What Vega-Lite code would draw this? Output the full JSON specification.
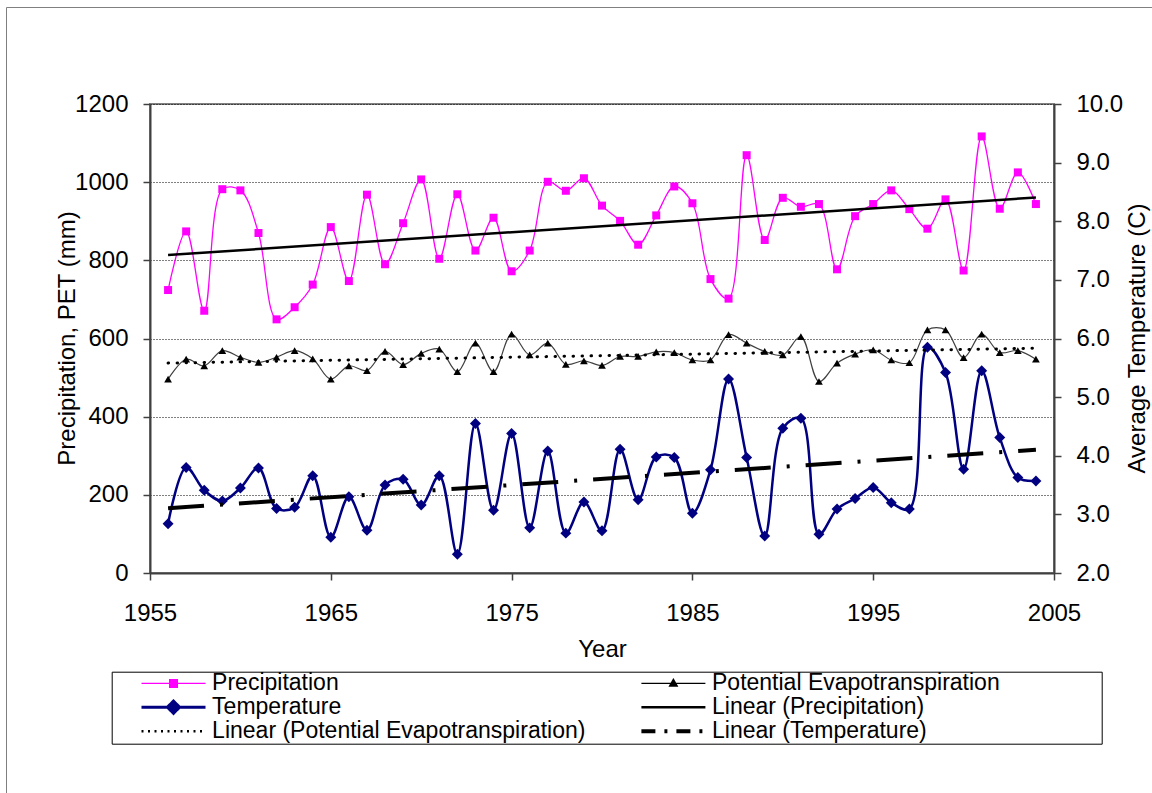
{
  "$schema": "https://vega.github.io/schema/vega-lite/v6.json",
  "width": 904,
  "height": 469,
  "autosize": {"type": "none"},
  "padding": {"left": 150, "top": 104, "right": 98, "bottom": 220},
  "background": "white",
  "config": {
    "font": "Liberation Sans",
    "view": {"stroke": "#808080", "strokeWidth": 2},
    "axis": {
      "labelFont": "Liberation Sans", "labelFontSize": 24, "labelColor": "black",
      "titleFont": "Liberation Sans", "titleFontSize": 24, "titleFontWeight": "normal", "titleColor": "black",
      "domainColor": "#404040", "domainWidth": 2, "tickColor": "#404040", "tickWidth": 1.5, "tickSize": 7,
      "grid": false, "labelFlush": false, "labelOverlap": false
    }
  },
  "data": {"values": [
    {"year": 1956, "precip": 724, "pet": 496, "temp": 2.84},
    {"year": 1957, "precip": 874, "pet": 547, "temp": 3.80},
    {"year": 1958, "precip": 671, "pet": 530, "temp": 3.41},
    {"year": 1959, "precip": 982, "pet": 569, "temp": 3.23},
    {"year": 1960, "precip": 979, "pet": 552, "temp": 3.45},
    {"year": 1961, "precip": 870, "pet": 539, "temp": 3.79},
    {"year": 1962, "precip": 649, "pet": 552, "temp": 3.10},
    {"year": 1963, "precip": 680, "pet": 569, "temp": 3.12},
    {"year": 1964, "precip": 738, "pet": 548, "temp": 3.66},
    {"year": 1965, "precip": 885, "pet": 496, "temp": 2.61},
    {"year": 1966, "precip": 747, "pet": 530, "temp": 3.30},
    {"year": 1967, "precip": 968, "pet": 518, "temp": 2.73},
    {"year": 1968, "precip": 790, "pet": 567, "temp": 3.50},
    {"year": 1969, "precip": 895, "pet": 533, "temp": 3.60},
    {"year": 1970, "precip": 1007, "pet": 562, "temp": 3.16},
    {"year": 1971, "precip": 804, "pet": 573, "temp": 3.66},
    {"year": 1972, "precip": 969, "pet": 515, "temp": 2.32},
    {"year": 1973, "precip": 825, "pet": 588, "temp": 4.55},
    {"year": 1974, "precip": 909, "pet": 515, "temp": 3.07},
    {"year": 1975, "precip": 772, "pet": 611, "temp": 4.38},
    {"year": 1976, "precip": 825, "pet": 558, "temp": 2.77},
    {"year": 1977, "precip": 1001, "pet": 588, "temp": 4.08},
    {"year": 1978, "precip": 978, "pet": 534, "temp": 2.68},
    {"year": 1979, "precip": 1010, "pet": 543, "temp": 3.21},
    {"year": 1980, "precip": 940, "pet": 531, "temp": 2.72},
    {"year": 1981, "precip": 901, "pet": 554, "temp": 4.11},
    {"year": 1982, "precip": 840, "pet": 554, "temp": 3.25},
    {"year": 1983, "precip": 915, "pet": 566, "temp": 3.98},
    {"year": 1984, "precip": 989, "pet": 564, "temp": 3.97},
    {"year": 1985, "precip": 946, "pet": 545, "temp": 3.02},
    {"year": 1986, "precip": 752, "pet": 545, "temp": 3.76},
    {"year": 1987, "precip": 702, "pet": 610, "temp": 5.31},
    {"year": 1988, "precip": 1069, "pet": 588, "temp": 3.97},
    {"year": 1989, "precip": 852, "pet": 567, "temp": 2.63},
    {"year": 1990, "precip": 960, "pet": 558, "temp": 4.47},
    {"year": 1991, "precip": 937, "pet": 605, "temp": 4.64},
    {"year": 1992, "precip": 944, "pet": 490, "temp": 2.66},
    {"year": 1993, "precip": 777, "pet": 537, "temp": 3.09},
    {"year": 1994, "precip": 913, "pet": 560, "temp": 3.27},
    {"year": 1995, "precip": 944, "pet": 571, "temp": 3.46},
    {"year": 1996, "precip": 979, "pet": 545, "temp": 3.20},
    {"year": 1997, "precip": 931, "pet": 538, "temp": 3.09},
    {"year": 1998, "precip": 881, "pet": 622, "temp": 5.85},
    {"year": 1999, "precip": 956, "pet": 622, "temp": 5.42},
    {"year": 2000, "precip": 774, "pet": 551, "temp": 3.77},
    {"year": 2001, "precip": 1117, "pet": 611, "temp": 5.45},
    {"year": 2002, "precip": 932, "pet": 564, "temp": 4.31},
    {"year": 2003, "precip": 1025, "pet": 569, "temp": 3.63},
    {"year": 2004, "precip": 944, "pet": 547, "temp": 3.57}
  ]},
  "encoding": {
    "x": {
      "field": "year", "type": "quantitative",
      "scale": {"domain": [1955, 2005], "nice": false, "zero": false},
      "axis": {"title": "Year", "values": [1955, 1965, 1975, 1985, 1995, 2005], "format": "d", "labelPadding": 21, "titlePadding": 12}
    }
  },
  "layer": [
    {
      "mark": {"type": "line", "interpolate": "catmull-rom", "strokeWidth": 1.3},
      "encoding": {
        "y": {
          "field": "precip", "type": "quantitative",
          "scale": {"domain": [0, 1200], "nice": false},
          "axis": {
            "orient": "left", "title": "Precipitation, PET (mm)",
            "values": [0, 200, 400, 600, 800, 1000, 1200], "format": "d",
            "grid": true, "gridDash": [1, 2], "gridColor": "black", "gridWidth": 1,
            "labelPadding": 15,
            "titleX": -83, "titleY": 234, "titleAngle": 270, "titleBaseline": "middle", "titleAlign": "center"
          }
        },
        "color": {
          "datum": "Precipitation", "type": "nominal",
          "scale": {
            "domain": ["Precipitation", "Potential Evapotranspiration", "Temperature", "Linear (Precipitation)", "Linear (Potential Evapotranspiration)", "Linear (Temperature)"],
            "range": ["#ff00ff", "#000000", "#000080", "#000000", "#000000", "#000000"]
          },
          "legend": {
            "title": null,
            "orient": "none", "legendX": -38.3, "legendY": 567.7,
            "direction": "horizontal", "columns": 2, "gridAlign": "each",
            "symbolSize": 4096, "symbolOffset": 50.3, "labelOffset": 27.1,
            "clipHeight": 23, "rowPadding": 0, "columnPadding": 25.9, "padding": 0,
            "strokeColor": "black", "fillColor": "white",
            "labelFont": "Liberation Sans", "labelFontSize": 23, "labelColor": "black", "labelLimit": 0,
            "labelExpr": "datum.value === 'Potential Evapotranspiration' ? 'Potential Evapotranspiration\u2800\u2800\u2800\u2800\u2800\u2800' : datum.label",
            "encode": {
              "symbols": {
                "update": {
                  "shape": {"signal": "datum.value === 'Precipitation' ? 'M-1,0H1M-0.12,-0.12H0.12V0.12H-0.12Z' : datum.value === 'Potential Evapotranspiration' ? 'M-1,0H1M0,-0.13L0.12,0.08H-0.12Z' : datum.value === 'Temperature' ? 'M-1,0H1M0,-0.19L0.19,0L0,0.19L-0.19,0Z' : 'M-1,0H1'"},
                  "fill": {"signal": "datum.value === 'Precipitation' ? '#ff00ff' : datum.value === 'Temperature' ? '#000080' : datum.value === 'Potential Evapotranspiration' ? '#000000' : 'transparent'"},
                  "stroke": {"signal": "datum.value === 'Precipitation' ? '#ff00ff' : datum.value === 'Temperature' ? '#000080' : datum.value === 'Potential Evapotranspiration' ? '#404040' : '#000000'"},
                  "strokeWidth": {"signal": "datum.value === 'Temperature' ? 3 : datum.value === 'Linear (Temperature)' ? 4 : datum.value === 'Linear (Potential Evapotranspiration)' ? 2.5 : datum.value === 'Linear (Precipitation)' ? 2.5 : 1.3"},
                  "strokeDash": {"signal": "datum.value === 'Linear (Potential Evapotranspiration)' ? [2, 4.5] : datum.value === 'Linear (Temperature)' ? [14, 9, 3, 9] : [1, 0]"},
                  "opacity": {"value": 1}
                }
              }
            }
          }
        }
      }
    },
    {
      "mark": {"type": "point", "shape": "square", "filled": true, "size": 64, "color": "#ff00ff", "opacity": 1},
      "encoding": {
        "y": {"field": "precip", "type": "quantitative", "scale": {"domain": [0, 1200], "nice": false}, "axis": null},
        "shape": {
          "datum": "frame", "type": "nominal",
          "scale": {"domain": ["frame"], "range": ["square"]},
          "legend": {
            "title": null, "orient": "none", "legendX": -144, "legendY": -97,
            "padding": 400, "symbolSize": 160000, "symbolOpacity": 0,
            "labelExpr": "''", "labelOpacity": 0,
            "strokeColor": "#808080", "fillColor": "transparent",
            "encode": {"legend": {"update": {"strokeWidth": {"value": 2}}}}
          }
        }
      }
    },
    {
      "mark": {"type": "line", "interpolate": "catmull-rom", "strokeWidth": 1.2, "color": "#404040"},
      "encoding": {
        "y": {"field": "pet", "type": "quantitative", "scale": {"domain": [0, 1200], "nice": false}, "axis": null}
      }
    },
    {
      "mark": {"type": "point", "shape": "triangle-up", "filled": true, "size": 60, "color": "#000000", "opacity": 1},
      "encoding": {
        "y": {"field": "pet", "type": "quantitative", "scale": {"domain": [0, 1200], "nice": false}, "axis": null}
      }
    },
    {
      "mark": {"type": "line", "interpolate": "catmull-rom", "strokeWidth": 2.5, "color": "#000080"},
      "encoding": {
        "y": {
          "field": "temp", "type": "quantitative",
          "scale": {"domain": [2, 10], "nice": false, "zero": false},
          "axis": {
            "orient": "right", "title": "Average Temperature (C)",
            "values": [2, 3, 4, 5, 6, 7, 8, 9, 10], "format": ".1f",
            "labelPadding": 15,
            "titleX": 83, "titleY": 234, "titleAngle": 270, "titleBaseline": "middle", "titleAlign": "center"
          }
        }
      }
    },
    {
      "mark": {"type": "point", "shape": "diamond", "filled": true, "size": 120, "color": "#000080", "opacity": 1},
      "encoding": {
        "y": {"field": "temp", "type": "quantitative", "scale": {"domain": [2, 10], "nice": false, "zero": false}, "axis": null}
      }
    },
    {
      "transform": [{"regression": "precip", "on": "year"}],
      "mark": {"type": "line", "strokeWidth": 2.5, "color": "#000000"},
      "encoding": {
        "y": {"field": "precip", "type": "quantitative", "scale": {"domain": [0, 1200], "nice": false}, "axis": null}
      }
    },
    {
      "transform": [{"regression": "pet", "on": "year"}],
      "mark": {"type": "line", "strokeWidth": 3, "color": "#000000", "strokeDash": [0.5, 8.5], "strokeCap": "round"},
      "encoding": {
        "y": {"field": "pet", "type": "quantitative", "scale": {"domain": [0, 1200], "nice": false}, "axis": null}
      }
    },
    {
      "transform": [{"regression": "temp", "on": "year"}],
      "mark": {"type": "line", "strokeWidth": 4, "color": "#000000", "strokeDash": [36, 16, 3, 16]},
      "encoding": {
        "y": {"field": "temp", "type": "quantitative", "scale": {"domain": [2, 10], "nice": false, "zero": false}, "axis": null}
      }
    }
  ],
  "resolve": {"scale": {"y": "independent"}}
}
